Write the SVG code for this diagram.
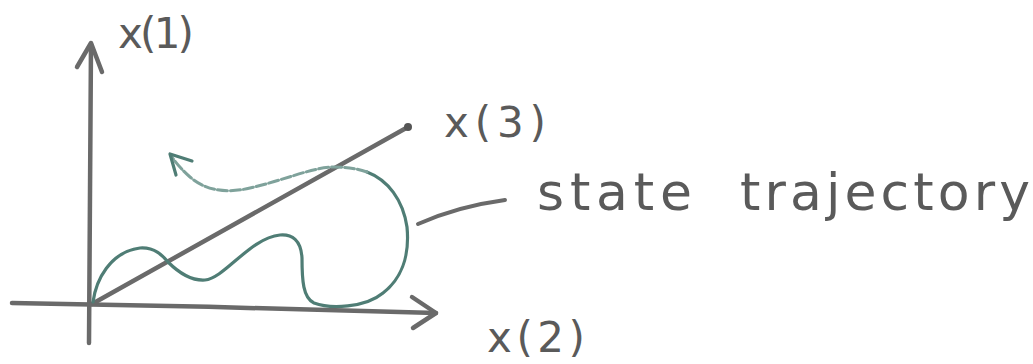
<svg xmlns="http://www.w3.org/2000/svg" width="1033" height="364" viewBox="0 0 1033 364">
<style>
.ax{fill:none;stroke:#6a6a6a;stroke-width:4.5;stroke-linecap:round;stroke-linejoin:round}
.tr{fill:none;stroke:#4f7d75;stroke-width:3.2;stroke-linecap:round;stroke-linejoin:round}
.fd{fill:none;stroke:#7fa29b;stroke-width:3;stroke-linecap:round;stroke-dasharray:10 3}
.lb{font-family:"DejaVu Sans","Liberation Sans",sans-serif;fill:#5a5a5a;font-size:42px}
.big{font-size:52px}
</style>
<rect width="1033" height="364" fill="#ffffff"/>
<g id="axes">
<path class="ax" d="M89,343 C90,250 91,150 91,44"/>
<path class="ax" d="M77,67 L91,43 L102,72"/>
<path class="ax" d="M12,303 C150,305 300,309 436,313"/>
<path class="ax" d="M412,297 L436,313 L413,328"/>
<path class="ax" d="M92,304 L408,127"/>
<circle cx="408" cy="127" r="4" fill="#555"/>
</g>
<g id="trajectory">
<path class="tr" d="M93,302 C96,280 110,252 140,248 C155,247 163,256 168,262 C178,272 190,281 205,280 C225,278 250,238 280,235 C292,234 301,240 302,258 C302,280 303,298 314,303 C330,309 365,308 383,293 C400,280 410,258 407,227 C403,200 388,180 367,172"/>
<path class="fd" d="M367,172 C355,168 345,167 333,167 C310,168 285,180 250,188 C225,194 205,190 190,177 C182,170 176,163 172,157"/>
<path class="tr" d="M192,161 L170,154 L176,175"/>
</g>
<g id="leader">
<path class="ax" style="stroke-width:4" d="M418,224 C445,212 475,204 505,200"/>
</g>
<g id="labels">
<text class="lb" x="118" y="48" textLength="76" lengthAdjust="spacing">x(1)</text>
<text class="lb" x="444" y="137" textLength="102" lengthAdjust="spacing">x(3)</text>
<text class="lb" x="487" y="352" font-size="40" textLength="98" lengthAdjust="spacing">x(2)</text>
<text class="lb big" x="537" y="210" textLength="155" lengthAdjust="spacing">state</text>
<text class="lb big" x="740" y="210" textLength="290" lengthAdjust="spacing">trajectory</text>
</g>
</svg>
